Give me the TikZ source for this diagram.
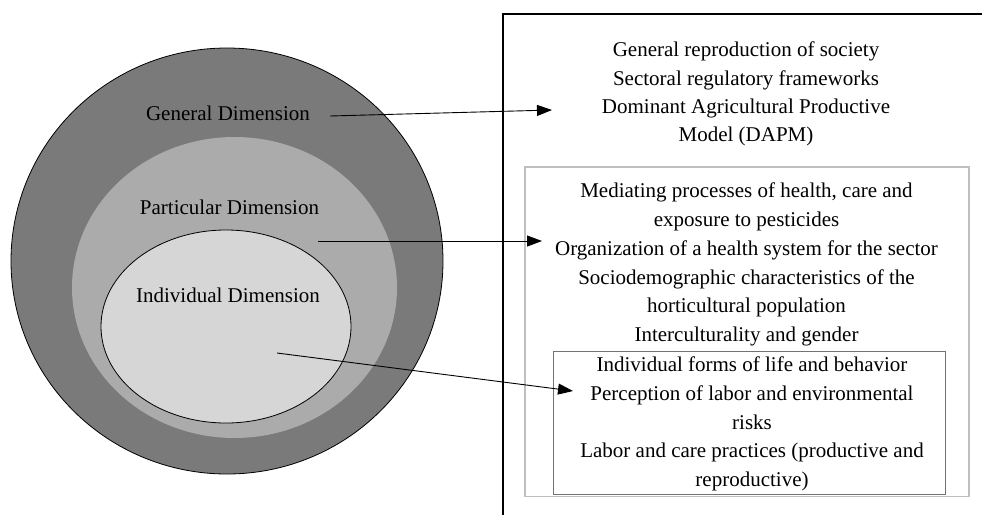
\documentclass[tikz,border=0pt]{standalone}
\usepackage{fontspec}
\setmainfont{Liberation Serif}
\usetikzlibrary{arrows.meta}
\begin{document}
\begin{tikzpicture}[x=1pt,y=-1pt,
  txt/.style={font=\fontsize{21}{28.7}\selectfont, anchor=base, inner sep=0pt},
  link/.style={line width=0.9pt, -{Triangle[length=15pt,width=11pt]}},
  framebox/.style={line width=1.2pt}]
\useasboundingbox (0,0) rectangle (982,515);

% nested dimensions
\draw[line width=0.8pt, fill=black!52] (227,261) ellipse [x radius=216pt, y radius=213pt];
\fill[black!33] (234.5,287.5) ellipse [x radius=162.5pt, y radius=150.5pt];
\draw[line width=0.8pt, fill=black!16] (226,326.5) ellipse [x radius=125pt, y radius=96.5pt];

\node[txt] (gdim) at (228,120) {General Dimension};
\node[txt] (pdim) at (229.5,214.3) {Particular Dimension};
\node[txt] (idim) at (228,302.7) {Individual Dimension};

% right-hand frame (top and left edges)
\draw[framebox] (982,14) -- (503,14) -- (503,515);
\draw[line width=1.2pt, draw=black!25] (525,167) rectangle (969,496.5);
\draw[line width=1pt, draw=black!55] (553,351) rectangle (945,494);

% general level
\foreach \t [count=\i] in {General reproduction of society,
  Sectoral regulatory frameworks,
  Dominant Agricultural Productive,
  Model (DAPM)}
  \node[txt] (gen\i) at (746,56.7+28.4*\i-28.4) {\t};

% particular level
\foreach \t [count=\i] in {{Mediating processes of health, care and},
  exposure to pesticides,
  Organization of a health system for the sector,
  Sociodemographic characteristics of the,
  horticultural population,
  Interculturality and gender}
  \node[txt] (par\i) at (746.5,197.3+28.9*\i-28.9) {\t};

% individual level
\foreach \t [count=\i] in {Individual forms of life and behavior,
  Perception of labor and environmental,
  risks,
  Labor and care practices (productive and,
  reproductive)}
  \node[txt] (ind\i) at (752,371.7+28.7*\i-28.7) {\t};

% connectors
\coordinate (g0) at (330,116);
\coordinate (g1) at (552,110);
\coordinate (p0) at (318,241);
\coordinate (p1) at (542,241);
\coordinate (i0) at (277,353);
\coordinate (i1) at (573,391);
\draw[link] (g0) -- (g1);
\draw[link] (p0) -- (p1);
\draw[link] (i0) -- (i1);
\end{tikzpicture}
\end{document}
